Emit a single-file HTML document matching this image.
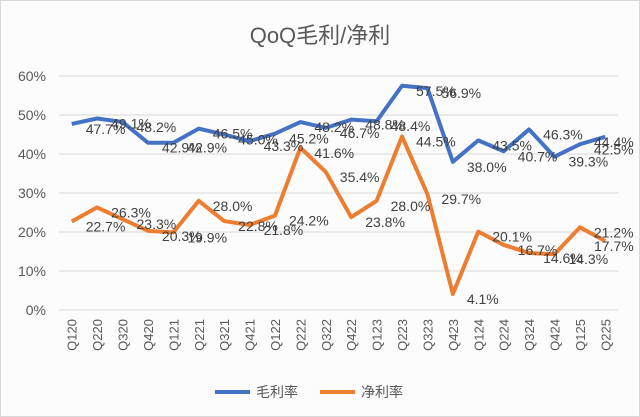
<!DOCTYPE html>
<html><head><meta charset="utf-8"><style>
body{margin:0;background:#fff}
svg{display:block;font-family:"Liberation Sans","Noto Sans CJK SC",sans-serif}
</style></head><body>
<svg id="c" width="640" height="417" viewBox="0 0 640 417">
<rect x="0.5" y="0.5" width="639" height="416" fill="#fcfcfc" stroke="#d9d9d9"/>
<text x="320" y="43" text-anchor="middle" font-size="22" fill="#595959">QoQ毛利/净利</text>
<g id="grid"></g><g id="xl"></g><g id="series"></g><g id="labels"></g>
<g>
<line x1="215" y1="392" x2="250" y2="392" stroke="#4472c4" stroke-width="4"/>
<text x="256" y="397" font-size="14" fill="#595959">毛利率</text>
<line x1="320" y1="392" x2="355" y2="392" stroke="#ed7d31" stroke-width="4"/>
<text x="361" y="397" font-size="14" fill="#595959">净利率</text>
</g>
</svg>
<script>
const categories=["Q120","Q220","Q320","Q420","Q121","Q221","Q321","Q421","Q122","Q222","Q322","Q422","Q123","Q223","Q323","Q423","Q124","Q224","Q324","Q424","Q125","Q225"];
const grossMargin=[47.7,49.1,48.2,42.9,42.9,46.5,45.0,43.3,45.2,48.2,46.7,48.8,48.4,57.5,56.9,38.0,43.5,40.7,46.3,39.3,42.5,44.4];
const netMargin=[22.7,26.3,23.3,20.3,19.9,28.0,22.8,21.8,24.2,41.6,35.4,23.8,28.0,44.5,29.7,4.1,20.1,16.7,14.6,14.3,21.2,17.7];
const yTicks=[0,10,20,30,40,50,60];
const NS="http://www.w3.org/2000/svg";
const L=59,R=618,T=76,B=310;
const band=(R-L)/categories.length;
const x=i=>L+band*(i+0.5);
const y=v=>B-(v/60)*(B-T);
function mk(t,a,p){const e=document.createElementNS(NS,t);for(const k in a)e.setAttribute(k,a[k]);p.appendChild(e);return e;}
const grid=document.getElementById('grid');
yTicks.forEach(t=>{
 const l=mk('line',{x1:L,x2:R,y1:y(t),y2:y(t),stroke:'#d9d9d9','stroke-width':1},grid);
 
 
 const tx=mk('text',{x:46,y:y(t)+5,'text-anchor':'end','font-size':14,fill:'#595959'},grid);
 tx.textContent=t+'%';
 
 
});
const xl=document.getElementById('xl');
categories.forEach((c,i)=>{
 const tx=mk('text',{x:0,y:0,'text-anchor':'end','font-size':13,fill:'#595959',transform:`translate(${x(i)+5},${B+9}) rotate(-90)`},xl);
 tx.textContent=c;
 
 
});
const sg=document.getElementById('series'),lg=document.getElementById('labels');
[[grossMargin,'#4472c4','gross'],[netMargin,'#ed7d31','net']].forEach(([d,col,n])=>{
 const p=mk('polyline',{points:d.map((v,i)=>x(i)+','+y(v)).join(' '),fill:'none',stroke:col,'stroke-width':4,'stroke-linejoin':'round'},sg);
 
 
 d.forEach((v,i)=>{
  const t=mk('text',{x:Math.min(x(i)+14,594),y:y(v)+10,'font-size':14,fill:'#404040'},lg);
  t.textContent=v.toFixed(1)+'%';
  
  
 });
});
</script>
</body></html>
